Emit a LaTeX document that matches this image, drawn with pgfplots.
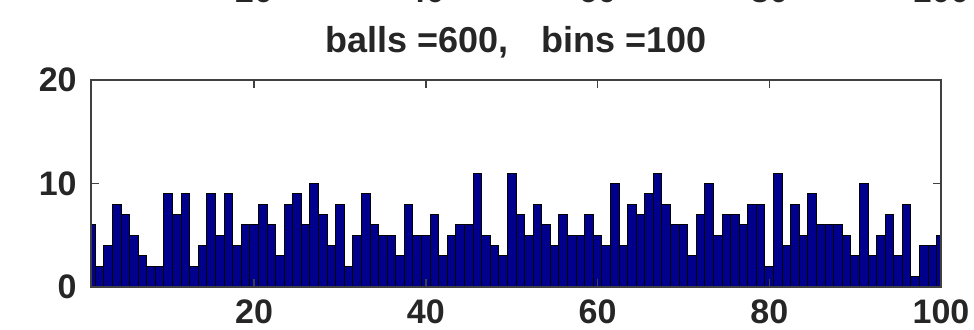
\documentclass[border=0pt]{standalone}
\usepackage{pgfplots}
\pgfplotsset{compat=1.18}
\usepackage{pgfplotstable}
\usepackage{fontspec}
\setmainfont{Liberation Sans}
\definecolor{barblue}{RGB}{0,0,140}
\pgfplotstableread{
x y
1 6
2 2
3 4
4 8
5 7
6 5
7 3
8 2
9 2
10 9
11 7
12 9
13 2
14 4
15 9
16 5
17 9
18 4
19 6
20 6
21 8
22 6
23 3
24 8
25 9
26 6
27 10
28 7
29 4
30 8
31 2
32 5
33 9
34 6
35 5
36 5
37 3
38 8
39 5
40 5
41 7
42 3
43 5
44 6
45 6
46 11
47 5
48 4
49 3
50 11
51 7
52 5
53 8
54 6
55 4
56 7
57 5
58 5
59 7
60 5
61 4
62 10
63 4
64 8
65 7
66 9
67 11
68 8
69 6
70 6
71 3
72 7
73 10
74 5
75 7
76 7
77 6
78 8
79 8
80 2
81 11
82 4
83 8
84 5
85 9
86 6
87 6
88 6
89 5
90 3
91 10
92 3
93 5
94 7
95 3
96 8
97 1
98 4
99 4
100 5
}\bins
\begin{document}
\fontsize{17}{20}\selectfont\bfseries
\begin{tikzpicture}
\path[use as bounding box] (-45.5pt,-21pt) rectangle (441.5pt,143.5pt);
% partially visible tick labels of the panel above
\begin{axis}[
  at={(0,160.5pt)}, anchor=south west,
  scale only axis, width=425pt, height=60pt,
  xmin=1, xmax=100, ymin=0, ymax=20,
  xtick={20,40,60,80,100}, ytick=\empty,
  axis line style={draw=none},
  major tick length=0pt,
  /pgf/number format/assume math mode=true,
  xticklabel style={font=\fontsize{17}{20}\selectfont\bfseries, anchor=base, yshift=-18pt, text=black!85},
]
\end{axis}
\begin{axis}[
  at={(0,0)}, anchor=south west,
  scale only axis, width=425pt, height=103.5pt,
  xmin=1, xmax=100, ymin=0, ymax=20,
  xtick={20,40,60,80,100}, ytick={0,10,20},
  tick align=inside, major tick length=4pt,
  axis on top,
  axis line style={black!75, line width=0.7pt},
  every tick/.style={black!75, line width=0.7pt},
  /pgf/number format/assume math mode=true,
  xticklabel style={font=\fontsize{17}{20}\selectfont\bfseries, anchor=base, yshift=-18pt, text=black!85},
  yticklabel style={font=\fontsize{17}{20}\selectfont\bfseries, anchor=east, inner sep=0pt, xshift=-7pt, text=black!85},
  title={balls =600,\hspace{0.9em}bins =100},
  title style={font=\fontsize{18}{21}\selectfont\bfseries, at={(0.5,1)}, anchor=base, yshift=8pt, text=black!85},
]
\addplot[ybar, bar width=1, fill=barblue, draw=black, line width=0.5pt] table[x=x, y=y] {\bins};
\end{axis}
\end{tikzpicture}
\end{document}
